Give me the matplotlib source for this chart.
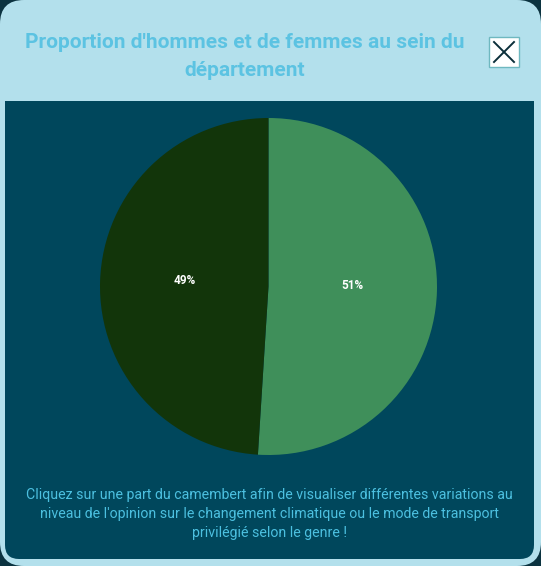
import matplotlib
matplotlib.use("Agg")
import matplotlib.pyplot as plt
from matplotlib.patches import FancyBboxPatch, Rectangle

# data
genres = ["Hommes", "Femmes"]
parts = [51, 49]
couleurs = ["#3f8f5a", "#12350a"]

titre = "Proportion d'hommes et de femmes au sein du\ndépartement"
texte_bas = ("Cliquez sur une part du camembert afin de visualiser différentes variations au\n"
             "niveau de l'opinion sur le changement climatique ou le mode de transport\n"
             "privilégié selon le genre !")

plt.rcParams['font.family'] = ['Roboto', 'DejaVu Sans']

W, H = 541, 566
fig = plt.figure(figsize=(W / 100, H / 100), dpi=100)
fig.patch.set_facecolor("#0b3340")

# fond (coordonnees en pixels, origine en haut a gauche)
bg = fig.add_axes([0, 0, 1, 1])
bg.set_xlim(0, W)
bg.set_ylim(H, 0)
bg.axis("off")
bg.add_patch(FancyBboxPatch((0, 0), W, H, boxstyle="round,pad=0,rounding_size=24",
                            fc="#b3e0ec", ec="none"))
bg.add_patch(FancyBboxPatch((5, 101), 529, 458, boxstyle="round,pad=0,rounding_size=14",
                            fc="#00475c", ec="none"))
bg.add_patch(Rectangle((5, 101), 529, 30, fc="#00475c", ec="none"))

t1 = bg.text(245, 57, titre, ha="center", va="center", fontsize=15, color="#5cc3e2",
             linespacing=1.6, fontweight="bold")

# bouton fermer
bg.add_patch(Rectangle((489, 37), 30, 30, fc="white", ec="#6fb8c0", lw=1))
bg.plot([494, 514], [42, 62], color="#0b2f3a", lw=1.4)
bg.plot([494, 514], [62, 42], color="#0b2f3a", lw=1.4)

t2 = bg.text(269, 514, texte_bas, ha="center", va="center", fontsize=10, color="#4cc0e0",
             linespacing=1.45)

# ajuster la taille des textes a la largeur voulue
fig.canvas.draw()
r = fig.canvas.get_renderer()
for t, largeur in [(t1, 441), (t2, 487)]:
    w = t.get_window_extent(r).width
    t.set_fontsize(t.get_fontsize() * largeur / w)

# camembert
ax = fig.add_axes([100 / W, (H - 455) / H, 337 / W, 337 / H])
wedges, labels, pcts = ax.pie(parts, colors=couleurs, startangle=90, counterclock=False,
                              autopct="%1.0f%%", pctdistance=0.5,
                              textprops={"color": "white", "fontsize": 8.5, "fontweight": "bold"},
                              wedgeprops={"linewidth": 0})
for p in pcts:
    p.set_y(p.get_position()[1] + 0.02)
ax.set_xlim(-1, 1)
ax.set_ylim(-1, 1)
ax.set_aspect("auto")
ax.axis("off")

fig.savefig("out.png", dpi=100, facecolor=fig.get_facecolor())
